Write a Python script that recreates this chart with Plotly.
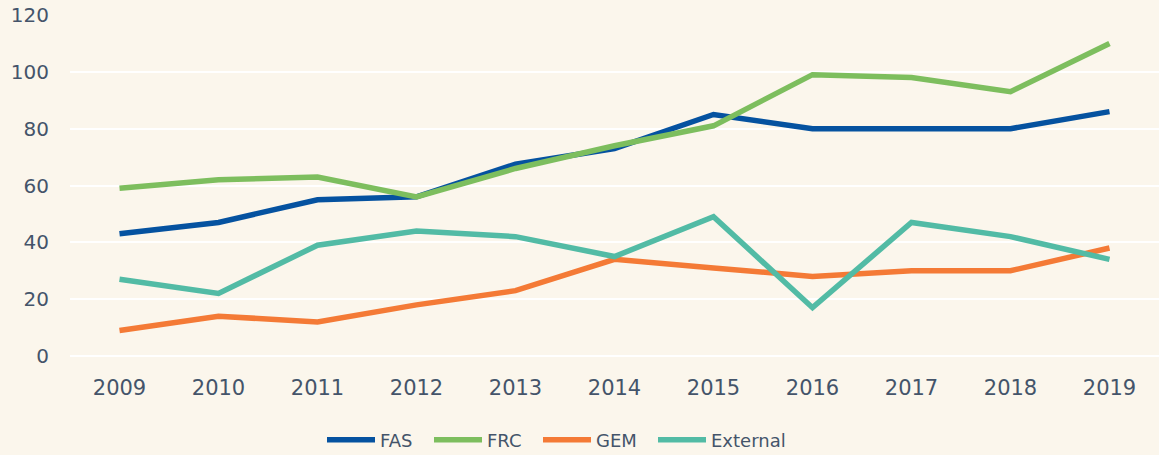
import plotly.graph_objects as go

years = ["2009", "2010", "2011", "2012", "2013", "2014", "2015", "2016", "2017", "2018", "2019"]
fas = [43, 47, 55, 56, 67.5, 73, 85, 80, 80, 80, 86]
frc = [59, 62, 63, 56, 66, 74, 81, 99, 98, 93, 110]
gem = [9, 14, 12, 18, 23, 34, 31, 28, 30, 30, 38]
external = [27, 22, 39, 44, 42, 35, 49, 17, 47, 42, 34]

series_names = ["FAS", "FRC", "GEM", "External"]
series_values = [fas, frc, gem, external]
series_colors = ["#0552a0", "#7dbe5e", "#f47a36", "#52bba5"]
legend_left_px = [327, 434, 543, 658]

bg = "#fbf6ec"
text_color = "#44546a"
font_family = "DejaVu Sans"
W, H = 1159, 455

fig = go.Figure()
legend_ids = ["legend", "legend2", "legend3", "legend4"]
for name, vals, color, lid in zip(series_names, series_values, series_colors, legend_ids):
    fig.add_trace(go.Scatter(
        x=years, y=vals, name=name, mode="lines",
        line=dict(color=color, width=5.5),
        legend=lid,
    ))

legend_layout = {}
for lid, px in zip(legend_ids, legend_left_px):
    legend_layout[lid] = dict(
        orientation="h",
        xref="container", yref="container",
        xanchor="left", x=(px - 5) / W,
        yanchor="middle", y=1 - 440 / H,
        font=dict(size=18, color=text_color),
        itemwidth=48,
        bgcolor="rgba(0,0,0,0)",
        borderwidth=0,
    )

fig.update_layout(
    template="none",
    width=W, height=H,
    margin=dict(l=70, r=0, t=15, b=99, autoexpand=False),
    paper_bgcolor=bg,
    plot_bgcolor=bg,
    font=dict(family=font_family, color=text_color, size=20),
    showlegend=True,
    **legend_layout,
)
fig.update_xaxes(
    type="category",
    range=[-0.5, 10.5],
    showgrid=False,
    showline=False,
    zeroline=False,
    ticks="",
    automargin=False,
    ticklabelstandoff=17,
    tickfont=dict(size=21, color=text_color),
)
fig.update_yaxes(
    range=[0, 120],
    tickvals=[0, 20, 40, 60, 80, 100, 120],
    showgrid=True,
    gridcolor="#ffffff",
    gridwidth=1.5,
    zeroline=True,
    zerolinecolor="#ffffff",
    zerolinewidth=1.5,
    showline=False,
    ticks="",
    automargin=False,
    ticklabelstandoff=20,
    tickfont=dict(size=20, color=text_color),
)

fig.write_html(
    "out.html",
    config={"displayModeBar": False},
    post_script="document.body.style.margin='0';document.body.style.background='%s';" % bg,
)
